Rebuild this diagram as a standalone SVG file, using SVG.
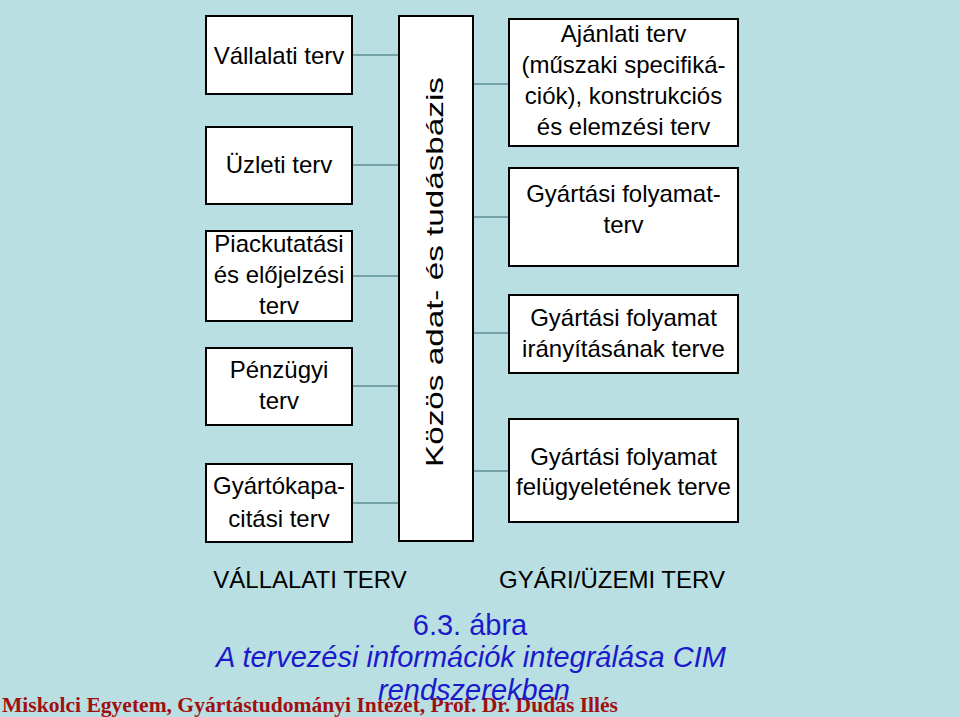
<svg xmlns="http://www.w3.org/2000/svg" width="960" height="717" viewBox="0 0 960 717">
<style>
.box{fill:#ffffff;stroke:#000000;stroke-width:2}
.t{font-family:"Liberation Sans",Arial,sans-serif;font-size:24px;fill:#000000;text-anchor:middle}
.conn{stroke:#5f8f96;stroke-width:1.5;fill:none}
.cap{font-family:"Liberation Sans",Arial,sans-serif;font-size:29px;fill:#1a1acc;text-anchor:middle}
.foot{font-family:"Liberation Serif","Times New Roman",serif;font-weight:bold;font-size:21px;fill:#a01010}
</style>
<rect x="0" y="0" width="960" height="717" fill="#b9dfe3"/>
<g id="connectors">
<line class="conn" x1="352" y1="55" x2="399" y2="55"/>
<line class="conn" x1="352" y1="165" x2="399" y2="165"/>
<line class="conn" x1="352" y1="276" x2="399" y2="276"/>
<line class="conn" x1="352" y1="386" x2="399" y2="386"/>
<line class="conn" x1="352" y1="503" x2="399" y2="503"/>
<line class="conn" x1="473" y1="84" x2="509" y2="84"/>
<line class="conn" x1="473" y1="217" x2="509" y2="217"/>
<line class="conn" x1="473" y1="333" x2="509" y2="333"/>
<line class="conn" x1="473" y1="471" x2="509" y2="471"/>
</g>
<g id="vallalati">
<rect class="box" x="206" y="16" width="146" height="78"/>
<text class="t" x="279" y="64">Vállalati terv</text>
</g>
<g id="uzleti">
<rect class="box" x="206" y="127" width="146" height="77"/>
<text class="t" x="279" y="173">Üzleti terv</text>
</g>
<g id="piackutatasi">
<rect class="box" x="206" y="231" width="146" height="90"/>
<text class="t" x="279" y="252">Piackutatási</text>
<text class="t" x="279" y="283">és előjelzési</text>
<text class="t" x="279" y="314">terv</text>
</g>
<g id="penzugyi">
<rect class="box" x="206" y="348" width="146" height="77"/>
<text class="t" x="279" y="378">Pénzügyi</text>
<text class="t" x="279" y="409">terv</text>
</g>
<g id="gyartokapacitasi">
<rect class="box" x="206" y="464" width="146" height="78"/>
<text class="t" x="279" y="494">Gyártókapa-</text>
<text class="t" x="279" y="527">citási terv</text>
</g>
<g id="adatbazis">
<rect class="box" x="399" y="16" width="74" height="525"/>
<text class="t" x="0" y="0" font-size="32" textLength="390" lengthAdjust="spacingAndGlyphs" transform="translate(443,272) rotate(-90)">Közös adat- és tudásbázis</text>
</g>
<g id="ajanlati">
<rect class="box" x="509" y="19" width="229" height="127"/>
<text class="t" x="623.5" y="42">Ajánlati terv</text>
<text class="t" x="623.5" y="73">(műszaki specifiká-</text>
<text class="t" x="623.5" y="104">ciók), konstrukciós</text>
<text class="t" x="623.5" y="135">és elemzési terv</text>
</g>
<g id="folyamatterv">
<rect class="box" x="509" y="168" width="229" height="98"/>
<text class="t" x="623.5" y="202">Gyártási folyamat-</text>
<text class="t" x="623.5" y="233">terv</text>
</g>
<g id="iranyitas">
<rect class="box" x="509" y="295" width="229" height="78"/>
<text class="t" x="623.5" y="326">Gyártási folyamat</text>
<text class="t" x="623.5" y="357">irányításának terve</text>
</g>
<g id="felugyelet">
<rect class="box" x="509" y="419" width="229" height="103"/>
<text class="t" x="623.5" y="465">Gyártási folyamat</text>
<text class="t" x="623.5" y="495">felügyeletének terve</text>
</g>
<g id="labels">
<text class="t" x="310" y="588">VÁLLALATI TERV</text>
<text class="t" x="612" y="588">GYÁRI/ÜZEMI TERV</text>
</g>
<g id="footer">
<text class="foot" x="2" y="712" textLength="616" lengthAdjust="spacingAndGlyphs">Miskolci Egyetem, Gyártástudományi Intézet, Prof. Dr. Dudás Illés</text>
</g>
<g id="caption">
<text class="cap" x="470" y="635">6.3. ábra</text>
<text class="cap" x="471" y="667" font-style="italic">A tervezési információk integrálása CIM</text>
<text class="cap" x="474" y="700" font-style="italic">rendszerekben</text>
</g>
</svg>
